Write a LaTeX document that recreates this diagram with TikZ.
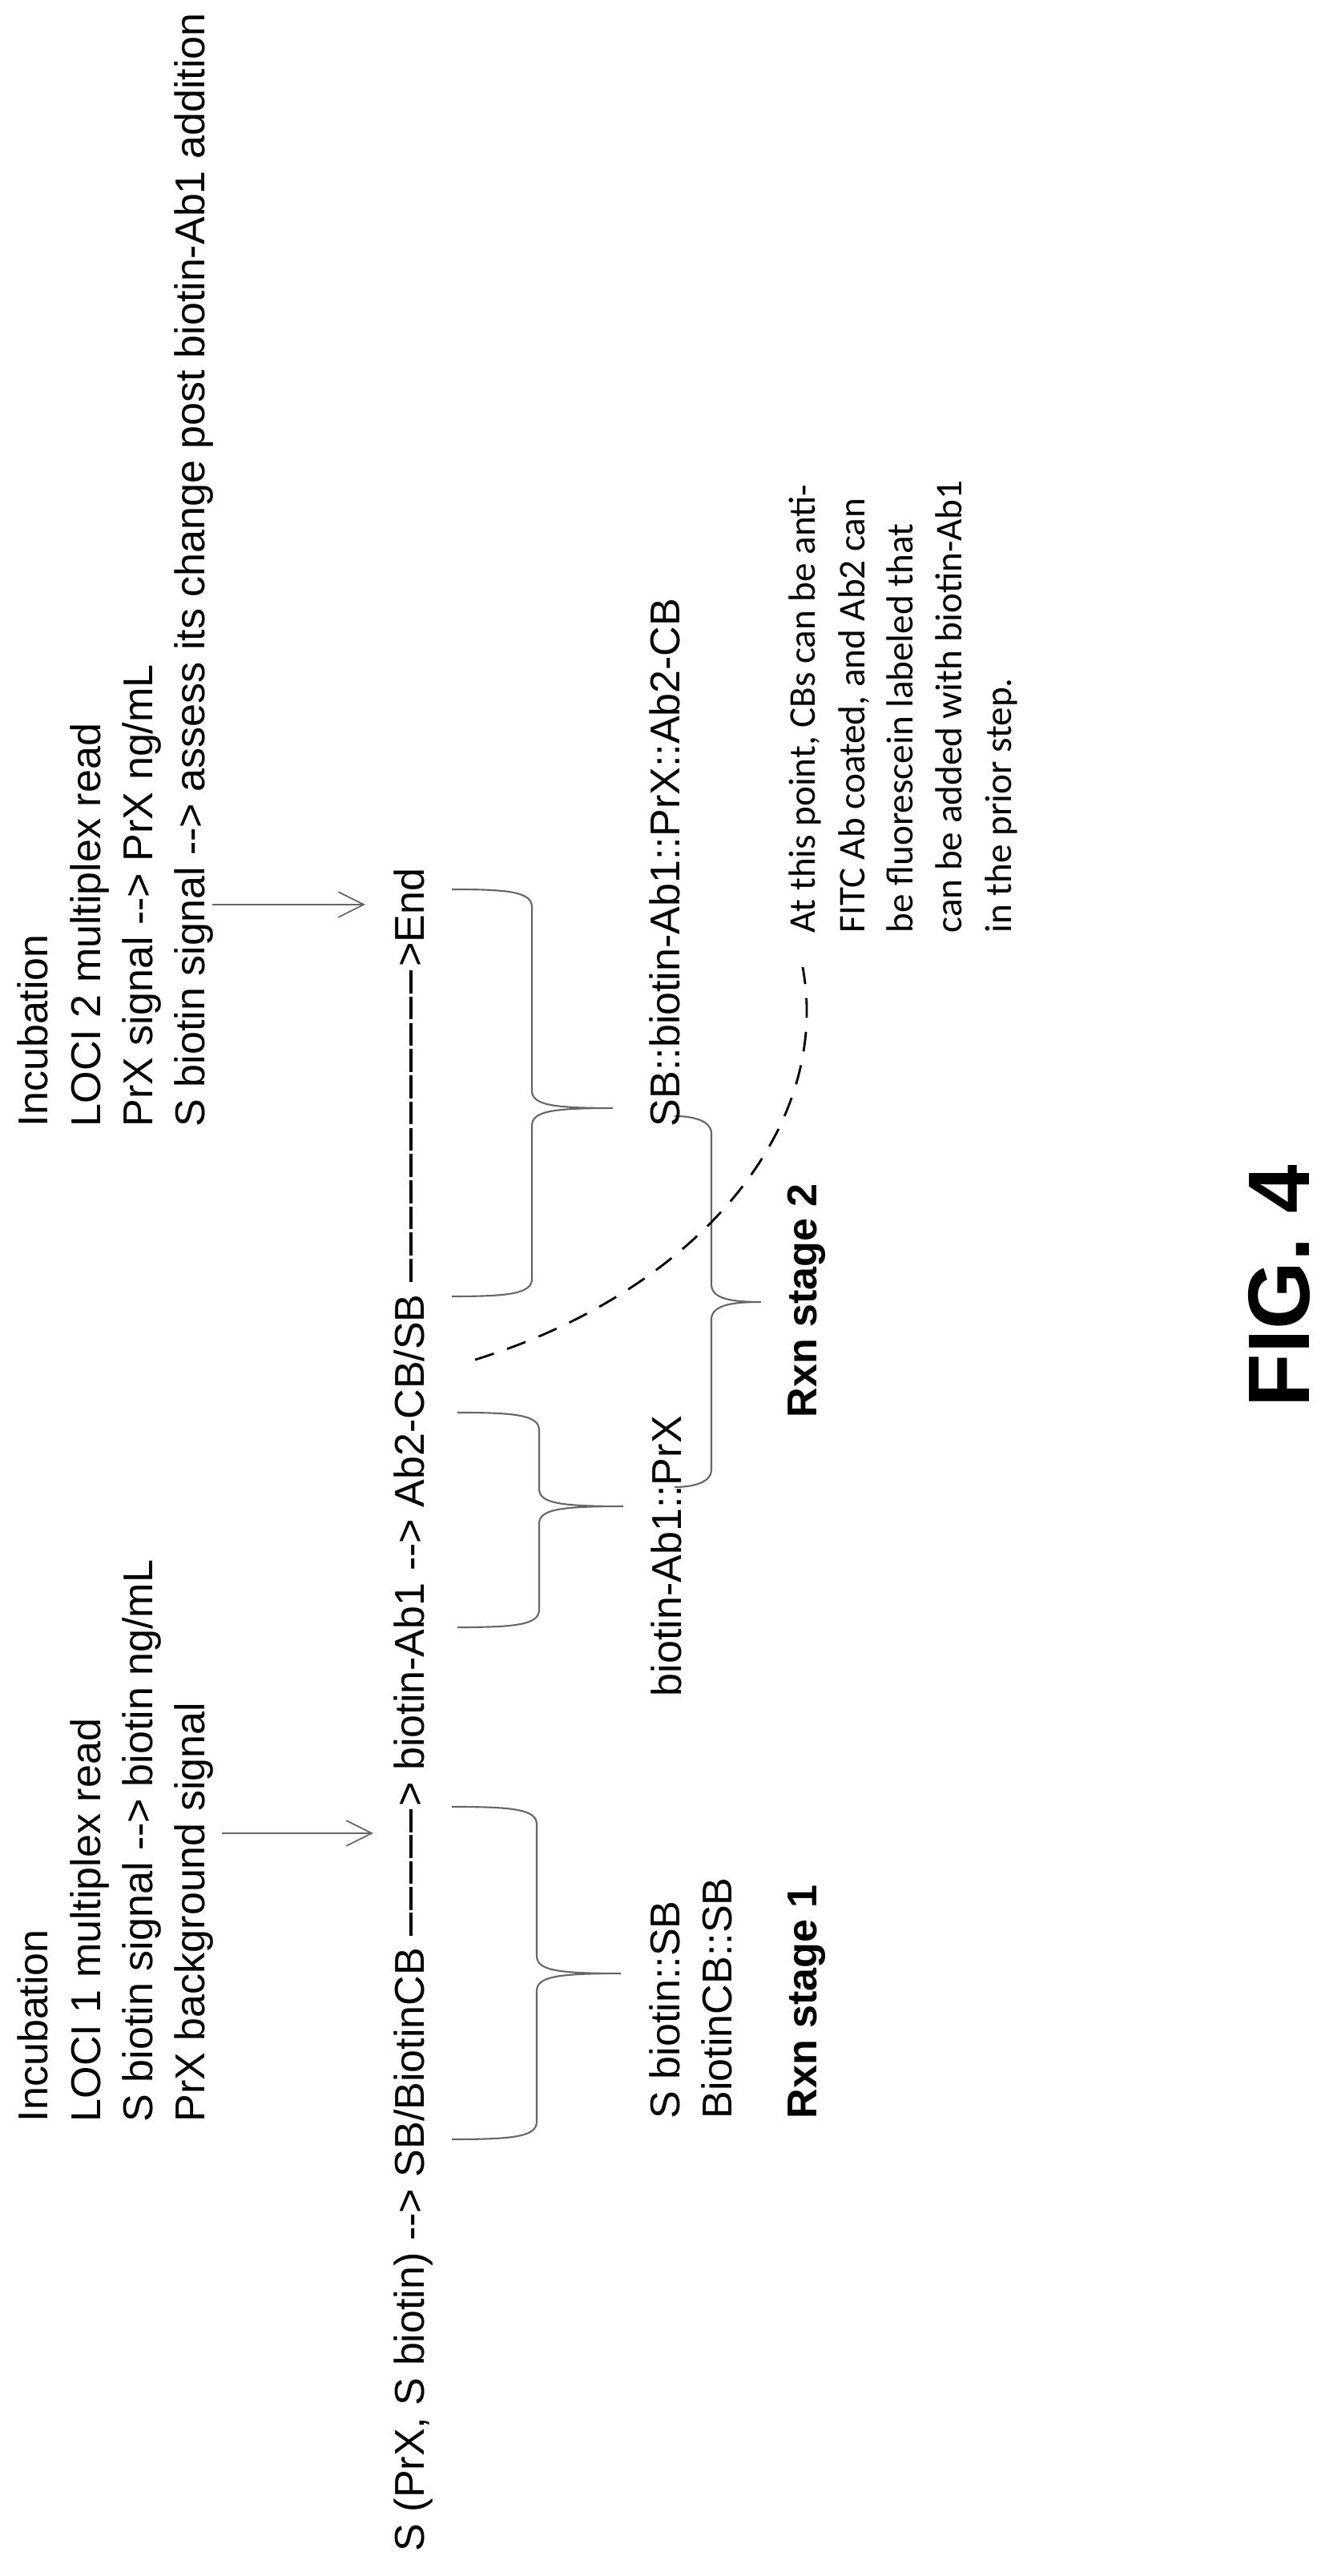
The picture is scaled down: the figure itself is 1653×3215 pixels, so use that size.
\documentclass[tikz,border=0pt]{standalone}
\usepackage{fontspec}
\setmainfont{Liberation Sans}
\newfontfamily\notefont{Carlito}
\usetikzlibrary{arrows.meta}
\newcommand{\dashrun}[1]{\hbox to #1{\xleaders\hbox{\rule[0.26em]{0.55em}{0.09em}\hspace{0.06em}}\hfill}}
\newcommand{\mybrace}[6]{\draw[conn] (#1,#4) .. controls (#2-30,#4) and (#2,#4-3) .. (#2,#4-22) -- (#2,#6+22) .. controls (#2,#6+4) and (#2+25,#6) .. (#3,#6) (#3,#6) .. controls (#2+25,#6) and (#2,#6-4) .. (#2,#6-22) -- (#2,#5+22) .. controls (#2,#5+3) and (#2-30,#5) .. (#1,#5);}
\begin{document}
\begin{tikzpicture}[x=0.01cm,y=0.01cm,
  txt/.style={rotate=90,anchor=base west,inner sep=0pt,font=\fontsize{14.8}{17}\selectfont},
  note/.style={rotate=90,anchor=base west,inner sep=0pt,font=\notefont\fontsize{13.4}{15}\selectfont},
  conn/.style={draw=black!60,line width=0.6pt},
  arr/.style={conn,-{Straight Barb[length=9pt,width=9pt,line width=0.5pt]}}]
\useasboundingbox (0,0) rectangle (1653,3215);
% block 1
\node[txt] (i1) at (60,566) {Incubation};
\node[txt] (l1) at (125,566) {LOCI 1 multiplex read};
\node[txt] (s1) at (190,566) {S biotin signal -{}-> biotin ng/mL};
\node[txt] (p1) at (255,566) {PrX background signal};
% block 2
\node[txt] (i2) at (60,1808) {Incubation};
\node[txt] (l2) at (125,1808) {LOCI 2 multiplex read};
\node[txt] (s2) at (190,1808) {PrX signal -{}-> PrX ng/mL};
\node[txt] (p2) at (255,1808) {S biotin signal -{}-> assess its change post biotin-Ab1 addition};
% main line
\node[txt] (main) at (529,30) {S (PrX, S biotin) -{}-> SB/BiotinCB \dashrun{46pt}> biotin-Ab1 -{}-> Ab2-CB/SB \dashrun{112pt}>End};
% arrows
\coordinate (a1s) at (277,927); \coordinate (a1e) at (466,927);
\coordinate (a2s) at (265,2086); \coordinate (a2e) at (456,2086);
\draw[arr] (a1s) -- (a1e);
\draw[arr] (a2s) -- (a2e);
% braces
\mybrace{564}{670}{775}{960}{545}{752}
\mybrace{571}{673}{778}{1452}{1184}{1335}
\mybrace{564}{664}{765}{2105}{1597}{1832}
\mybrace{842}{888}{950}{1822}{1359}{1590}
% lower texts
\node[txt] (sb1) at (848,570) {S biotin::SB};
\node[txt] (sb2) at (913,570) {BiotinCB::SB};
\node[txt,font=\fontsize{14.8}{17}\selectfont\bfseries] (r1) at (1019,570) {Rxn stage 1};
\node[txt] (bp) at (850,1097) {biotin-Ab1::PrX};
\node[txt] (sbc) at (848,1808) {SB::biotin-Ab1::PrX::Ab2-CB};
\node[txt,font=\fontsize{14.8}{17}\selectfont\bfseries] (r2) at (1019,1445) {Rxn stage 2};
% note
\node[note] (n1) at (1017,2050) {At this point, CBs can be anti-};
\node[note] (n2) at (1079,2050) {FITC Ab coated, and Ab2 can};
\node[note] (n3) at (1139,2050) {be fluorescein labeled that};
\node[note] (n4) at (1200,2050) {can be added with biotin-Ab1};
\node[note] (n5) at (1262,2050) {in the prior step.};
\coordinate (ds) at (593,1518); \coordinate (de) at (1002,2008);
\draw[black,line width=0.8pt,dash pattern=on 7pt off 5pt] (ds) .. controls (860,1600) and (1040,1800) .. (de);
% figure label
\node[rotate=90,anchor=base,inner sep=0pt,font=\fontsize{31}{36}\selectfont\bfseries] (fig) at (1634,1610) {FIG. 4};
\end{tikzpicture}
\end{document}
